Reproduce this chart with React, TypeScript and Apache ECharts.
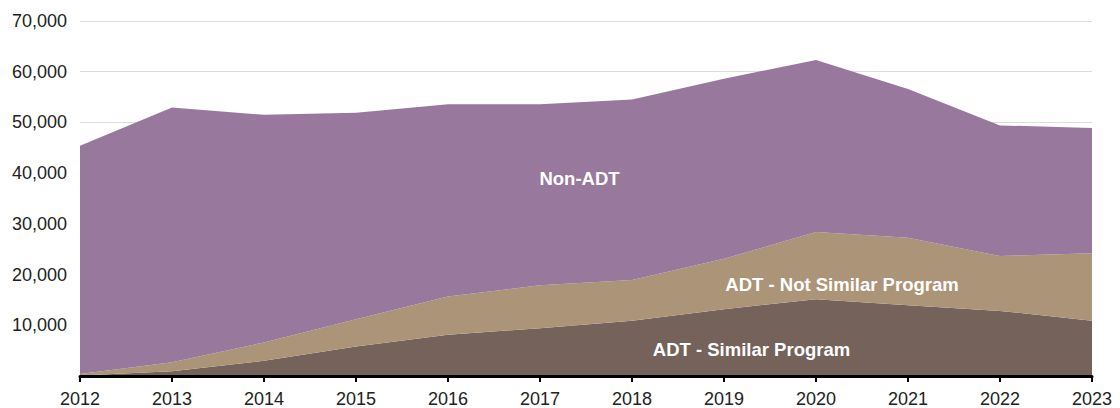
import React, { useEffect, useRef } from "react";
import * as echarts from "echarts";

const years = ["2012", "2013", "2014", "2015", "2016", "2017", "2018", "2019", "2020", "2021", "2022", "2023"];
const similar = [100, 920, 3010, 5840, 8130, 9440, 10870, 13170, 15140, 13960, 12840, 10870];
const notSimilar = [300, 1770, 3610, 5370, 7540, 8460, 8070, 9950, 13230, 13300, 10810, 13310];
const nonAdt = [45000, 50260, 44880, 40690, 37930, 35700, 35560, 35480, 33960, 29310, 25760, 24720];

const FONT = "'Liberation Sans', Arial, Helvetica, sans-serif";

export default function App() {
  const ref = useRef<HTMLDivElement>(null);
  useEffect(() => {
    if (!ref.current) return;
    const chart = echarts.init(ref.current, undefined, { renderer: "svg" });
    const area = (name: string, data: number[], color: string) => ({
      name,
      type: "line",
      stack: "total",
      data,
      symbol: "none",
      lineStyle: { width: 0 },
      areaStyle: { color, opacity: 1 },
      itemStyle: { color },
    });
    const label = (text: string, x: number, y: number) => ({
      type: "text",
      x,
      y,
      z: 100,
      style: { text, fill: "#fff", font: `bold 18.5px ${FONT}`, align: "center", verticalAlign: "middle" },
    });
    chart.setOption({
      animation: false,
      grid: { left: 80, right: 28, top: 21, bottom: 31, containLabel: false },
      xAxis: {
        type: "category",
        data: years,
        boundaryGap: false,
        axisLine: { show: true, lineStyle: { color: "#000", width: 3 } },
        axisTick: { show: true, alignWithLabel: true, length: 6, lineStyle: { color: "#000", width: 2 } },
        axisLabel: { color: "#222", fontSize: 18, fontFamily: FONT, margin: 14, showMaxLabel: true, showMinLabel: true },
        splitLine: { show: false },
        z: 10,
      },
      yAxis: {
        type: "value",
        min: 0,
        max: 70000,
        interval: 10000,
        axisLine: { show: false },
        axisTick: { show: false },
        axisLabel: {
          color: "#222",
          fontSize: 18,
          fontFamily: FONT,
          margin: 13,
          formatter: (v: number) => (v === 0 ? "" : v.toLocaleString("en-US")),
        },
        splitLine: { show: true, lineStyle: { color: "#dcdcdc", width: 1 } },
      },
      series: [
        area("ADT - Similar Program", similar, "#74625b"),
        area("ADT - Not Similar Program", notSimilar, "#ac9478"),
        area("Non-ADT", nonAdt, "#98789d"),
      ],
      graphic: [
        label("Non-ADT", 579.5, 178),
        label("ADT - Not Similar Program", 842, 284),
        label("ADT - Similar Program", 751.5, 349.5),
      ],
    });
    return () => chart.dispose();
  }, []);
  return <div ref={ref} style={{ width: 1120, height: 408, position: "absolute", left: 0, top: 0 }} />;
}
